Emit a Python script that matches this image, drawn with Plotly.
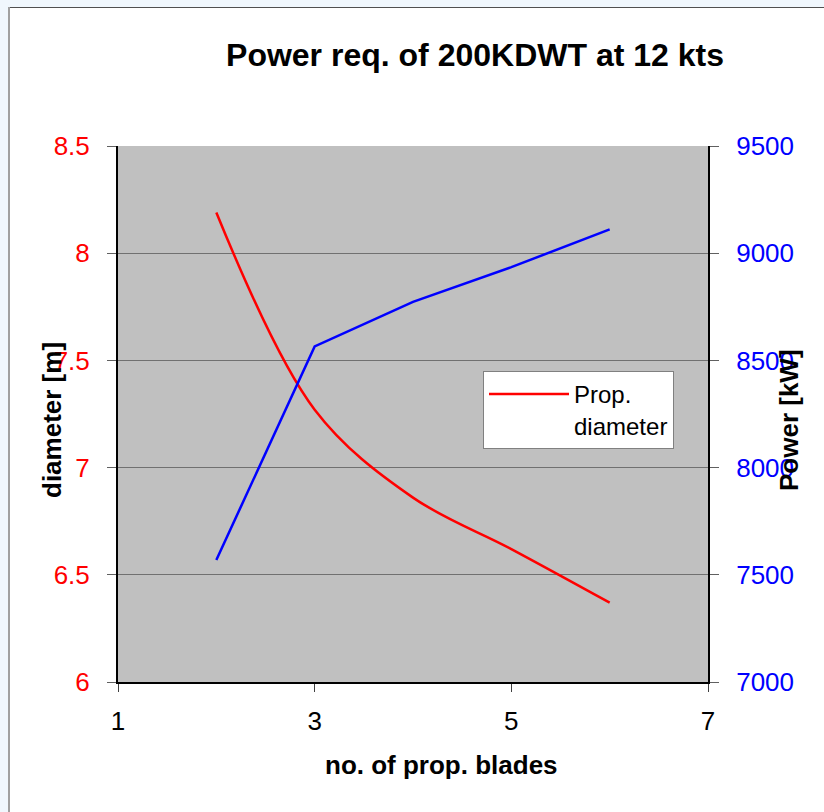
import plotly.graph_objects as go

blades = [2, 3, 4, 5, 6]
diameter = [8.19, 7.27, 6.86, 6.62, 6.37]
power = [7569, 8565, 8773, 8935, 9111]

title_text = "Power req. of 200KDWT at 12 kts"
x_title = "no. of prop. blades"
y_title = "diameter [m]"
y2_title = "Power [kW]"
legend_name = "Prop.<br>diameter"

FONT = "Liberation Sans, Arial, Helvetica, sans-serif"
W, H = 824, 812
L, R, T, B = 118, 116, 146, 130
PW, PH = W - L - R, H - T - B


def px(x):
    return (x - L) / PW


def py(y):
    return (H - B - y) / PH


fig = go.Figure()
fig.add_trace(go.Scatter(
    x=blades, y=diameter, name=legend_name, mode="lines",
    line=dict(color="#FF0000", width=2.5, shape="spline", smoothing=1),
    yaxis="y", showlegend=True, hoverinfo="skip"))
fig.add_trace(go.Scatter(
    x=blades, y=power, name="Power", mode="lines",
    line=dict(color="#0000FF", width=2.5),
    yaxis="y2", showlegend=False, hoverinfo="skip"))

shapes = [
    dict(type="rect", xref="paper", yref="paper", x0=px(0), x1=px(8), y0=py(H + 5), y1=py(0),
         fillcolor="#F0F7FD", line=dict(width=0), layer="below"),
    dict(type="rect", xref="paper", yref="paper", x0=px(0), x1=px(W + 5), y0=py(7), y1=py(0),
         fillcolor="#F0F7FD", line=dict(width=0), layer="below"),
    dict(type="line", xref="paper", yref="paper", x0=px(8), x1=px(W + 5), y0=py(7.5), y1=py(7.5),
         line=dict(color="#505050", width=1), layer="below"),
    dict(type="line", xref="paper", yref="paper", x0=px(9), x1=px(9), y0=py(7), y1=py(H + 5),
         line=dict(color="#A0A0A0", width=2), layer="below"),
]

annotations = [
    dict(text="<b>" + y_title + "</b>", xref="paper", yref="paper", x=px(52), y=py(420),
         textangle=-90, showarrow=False, xanchor="center", yanchor="middle",
         font=dict(family=FONT, size=26, color="#000000")),
    dict(text="<b>" + y2_title + "</b>", xref="paper", yref="paper", x=px(789), y=py(420),
         textangle=-90, showarrow=False, xanchor="center", yanchor="middle",
         font=dict(family=FONT, size=26, color="#000000")),
    dict(text="<b>" + x_title + "</b>", xref="paper", yref="paper", x=px(441), y=py(765),
         showarrow=False, xanchor="center", yanchor="middle",
         font=dict(family=FONT, size=26, color="#000000")),
]

fig.update_layout(
    width=W, height=H,
    margin=dict(l=L, r=R, t=T, b=B, pad=0),
    paper_bgcolor="#FFFFFF",
    plot_bgcolor="#C0C0C0",
    font=dict(family=FONT, size=26, color="#000000"),
    title=dict(text="<b>" + title_text + "</b>", x=475 / W, xanchor="center",
               y=1 - 55 / H, yanchor="middle",
               font=dict(family=FONT, size=32, color="#000000")),
    xaxis=dict(range=[1, 7], tickmode="linear", tick0=1, dtick=2,
               showgrid=False, zeroline=False, showline=True, linecolor="#000000", linewidth=2,
               ticks="outside", ticklen=8, tickcolor="#404040", tickwidth=1,
               ticklabelstandoff=7,
               tickfont=dict(family=FONT, size=26, color="#000000")),
    yaxis=dict(range=[6, 8.5], tickmode="linear", tick0=6, dtick=0.5,
               showgrid=True, gridcolor="#707070", gridwidth=1, zeroline=False,
               showline=True, linecolor="#000000", linewidth=2,
               ticks="outside", ticklen=9, tickcolor="#606060", tickwidth=1,
               ticklabelstandoff=12,
               tickfont=dict(family=FONT, size=26, color="#FF0000")),
    yaxis2=dict(range=[7000, 9500], tickmode="linear", tick0=7000, dtick=500,
                overlaying="y", side="right", showgrid=False, zeroline=False,
                showline=True, linecolor="#000000", linewidth=2,
                ticks="outside", ticklen=9, tickcolor="#606060", tickwidth=1,
                ticklabelstandoff=12,
                tickfont=dict(family=FONT, size=26, color="#0000FF")),
    legend=dict(x=px(483), y=py(371), xanchor="left", yanchor="top",
                bgcolor="#FFFFFF", bordercolor="#808080", borderwidth=1,
                font=dict(family=FONT, size=24, color="#000000"),
                itemwidth=80, valign="top"),
    shapes=shapes,
    annotations=annotations,
)

fig.write_html("out.html")
